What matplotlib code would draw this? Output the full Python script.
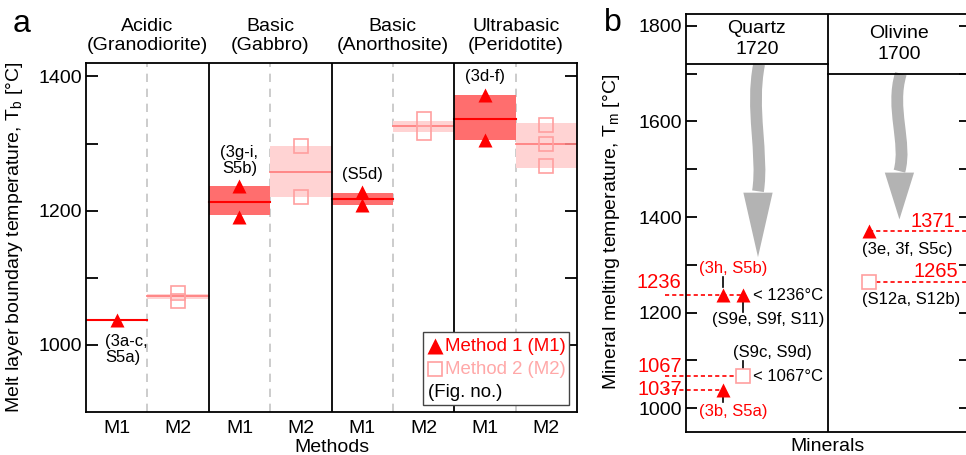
import matplotlib
matplotlib.use('Agg')
import matplotlib.pyplot as plt
from matplotlib.path import Path
from matplotlib.patches import PathPatch, Polygon, Rectangle

plt.rcParams['font.family'] = ['Liberation Sans', 'DejaVu Sans']
plt.rcParams['mathtext.default'] = 'regular'

# ---------------- data (panel a) ----------------
groups = ['Acidic\n(Granodiorite)', 'Basic\n(Gabbro)', 'Basic\n(Anorthosite)', 'Ultrabasic\n(Peridotite)']
m1_points = [[1037], [1237, 1190], [1228, 1209], [1373, 1306]]
m1_mean = [1037, 1213, 1218, 1337]
m1_low = [1037, 1193, 1209, 1306]
m1_high = [1037, 1236, 1227, 1373]
m2_points = [[1078, 1066], [1297, 1221], [1336, 1316], [1328, 1300, 1266]]
m2_mean = [1073, 1258, 1326, 1300]
m2_low = [1069, 1221, 1317, 1264]
m2_high = [1076, 1297, 1334, 1330]
fig_refs = ['(3a-c,\nS5a)', '(3g-i,\nS5b)', '(S5d)', '(3d-f)']

# ---------------- data (panel b) ----------------
minerals = ['Quartz', 'Olivine']
melt_pts = [1720, 1700]
quartz_m1 = [1236, 1236, 1037]
quartz_m2 = [1067]
olivine_m1 = [1371]
olivine_m2 = [1265]

# colours
red = '#ff0000'
band1 = '#ff6e6e'
band2 = '#ffd3d3'
line2 = '#ff8080'
sq_edge = '#ff9f9f'
grid_c = '#c4c4c4'
arrow_c = '#b3b3b3'

tick_size = 14
lab_size = 14
note_size = 12

W, H = 966, 455
fig = plt.figure(figsize=(W/100, H/100), dpi=100)

def px_axes(l, t, r, b):
    return fig.add_axes([l/W, 1-b/H, (r-l)/W, (b-t)/H])

#==================================================================
# Panel a
#==================================================================
ax = px_axes(86, 63, 577, 412)
ax.set_xlim(0, 8)
ax.set_ylim(900, 1420)

for i in range(len(groups)):
    x1 = 2*i
    x2 = 2*i + 1
    # method 1
    ax.fill_between([x1, x1+1], m1_low[i], m1_high[i], color=band1, lw=0, zorder=1)
    ax.plot([x1, x1+1], [m1_mean[i]]*2, color=red, lw=1.5, zorder=2)
    ax.plot([x1+0.5]*len(m1_points[i]), m1_points[i], '^', color=red, ms=10, mec='none', zorder=3)
    # method 2
    ax.fill_between([x2, x2+1], m2_low[i], m2_high[i], color=band2, lw=0, zorder=1)
    ax.plot([x2, x2+1], [m2_mean[i]]*2, color=line2, lw=1.3, zorder=2)
    ax.plot([x2+0.5]*len(m2_points[i]), m2_points[i], 's', mfc='none', mec=sq_edge, ms=9.5, mew=1.2, zorder=3)
    # group title
    ax.text(2*i+1, 1.027, groups[i], transform=ax.get_xaxis_transform(), ha='center', va='bottom',
            fontsize=lab_size, linespacing=1.15)
    # separators
    ax.axvline(x2, color=grid_c, lw=1.2, ls=(0, (5, 4)), zorder=0)
    if i > 0:
        ax.axvline(x1, color='k', lw=1.3, zorder=4)

# figure number notes
ax.text(0.31, 993, fig_refs[0], ha='left', va='center', fontsize=note_size, linespacing=1.1)
ax.text(2.5, 1275, fig_refs[1], ha='center', va='center', fontsize=note_size, linespacing=1.1)
ax.text(4.5, 1254, fig_refs[2], ha='center', va='center', fontsize=note_size)
ax.text(6.5, 1400, fig_refs[3], ha='center', va='center', fontsize=note_size)

ax.set_xticks([i + 0.5 for i in range(8)])
ax.set_xticklabels(['M1', 'M2']*4)
ax.set_yticks([1000, 1200, 1400])
ax.set_yticks([1100, 1300], minor=True)
ax.tick_params(axis='y', which='both', direction='in', length=8.5, width=1.3, left=True, right=True,
               labelsize=tick_size, pad=3)
ax.tick_params(axis='x', length=0, labelsize=tick_size, pad=6)
for s in ax.spines.values():
    s.set_linewidth(1.3)
ax.set_xlabel('Methods', fontsize=lab_size, labelpad=1)
ax.set_ylabel('Melt layer boundary temperature, T$_b$ [°C]', fontsize=lab_size)
ax.yaxis.set_label_coords(-0.124, 0.5)

# legend (drawn by hand)
ax.add_patch(Rectangle((0.686, 0.020), 0.298, 0.209, transform=ax.transAxes, fc='white', ec='#444444',
                       lw=1.0, zorder=5))
ax.plot([0.711], [0.189], '^', color=red, ms=11, mec='none', transform=ax.transAxes, zorder=6)
ax.text(0.731, 0.189, 'Method 1 (M1)', color=red, fontsize=13.4, va='center', transform=ax.transAxes, zorder=6)
ax.plot([0.711], [0.123], 's', mfc='white', mec=sq_edge, ms=10, mew=1.2, transform=ax.transAxes, zorder=6)
ax.text(0.731, 0.123, 'Method 2 (M2)', color='#ffa8a8', fontsize=13.4, va='center', transform=ax.transAxes, zorder=6)
ax.text(0.697, 0.057, '(Fig. no.)', color='k', fontsize=13.4, va='center', transform=ax.transAxes, zorder=6)

fig.text(22/W, 1-24/H, 'a', fontsize=23, ha='center', va='center')

#==================================================================
# Panel b
#==================================================================
bx = px_axes(686, 14, 970, 432)
bx.set_xlim(0, 2)
bx.set_ylim(950, 1825)
bx.set_xticks([])
bx.set_yticks([1000, 1200, 1400, 1600, 1800])
bx.set_yticks([1100, 1300, 1500, 1700], minor=True)
bx.tick_params(axis='y', which='both', direction='in', length=8, width=1.3, left=True, right=True,
               labelsize=tick_size, pad=3)
for s in bx.spines.values():
    s.set_linewidth(1.3)
bx.set_xlabel('Minerals', fontsize=lab_size, labelpad=4)
bx.set_ylabel('Mineral melting temperature, T$_m$ [°C]', fontsize=lab_size)
bx.yaxis.set_label_coords(-0.225, 0.478)

# mineral header boxes
bx.axvline(1, color='k', lw=1.3)
for j in range(len(minerals)):
    bx.plot([j, j+1], [melt_pts[j]]*2, color='k', lw=1.3)
    bx.text(j+0.5, (melt_pts[j] + 1825)/2, minerals[j] + '\n' + str(melt_pts[j]), ha='center', va='center',
            fontsize=lab_size, linespacing=1.3)

# wavy grey arrows from the melting point downwards
def wavy_arrow(x0, top, xs, head_top, tip):
    verts = [(x0 + xs[0], top), (x0 + xs[1], top - 0.35*(top-head_top)),
             (x0 + xs[2], top - 0.7*(top-head_top)), (x0, head_top + 3)]
    path = Path(verts, [Path.MOVETO, Path.CURVE4, Path.CURVE4, Path.CURVE4])
    bx.add_patch(PathPatch(path, fc='none', ec=arrow_c, lw=8.5, capstyle='butt', zorder=1))
    bx.add_patch(Polygon([(x0-0.103, head_top), (x0+0.103, head_top), (x0, tip)], closed=True,
                         fc=arrow_c, ec='none', zorder=1))

wavy_arrow(0.507, melt_pts[0], [0.008, -0.055, 0.04], 1451, 1316)
wavy_arrow(1.503, melt_pts[1], [0.01, -0.065, 0.055], 1493, 1395)

# dashed reference lines
dash = (0, (2.5, 1.8))
qx1, qx2, ox = 0.26, 0.40, 1.29
bx.plot([-0.15, qx2], [quartz_m1[0]]*2, color=red, lw=1.2, ls=dash, clip_on=False, zorder=2)
bx.plot([-0.15, qx2], [quartz_m2[0]]*2, color=red, lw=1.2, ls=dash, clip_on=False, zorder=2)
bx.plot([-0.15, qx1], [quartz_m1[2]]*2, color=red, lw=1.2, ls=dash, clip_on=False, zorder=2)
bx.plot([ox, 2.0], [olivine_m1[0]]*2, color=red, lw=1.2, ls=dash, zorder=2)
bx.plot([ox, 2.0], [olivine_m2[0]]*2, color=red, lw=1.2, ls=dash, zorder=2)

# markers
bx.plot([qx1, qx2, qx1], quartz_m1, '^', color=red, ms=10, mec='none', zorder=4)
bx.plot([qx2], quartz_m2, 's', mfc='white', mec=sq_edge, ms=10, mew=1.2, zorder=4)
bx.plot([ox], olivine_m1, '^', color=red, ms=10, mec='none', zorder=4)
bx.plot([ox], olivine_m2, 's', mfc='white', mec=sq_edge, ms=10, mew=1.2, zorder=4)

# red value labels on the left
bx.text(-0.03, 1263, str(quartz_m1[0]), color=red, ha='right', va='center', fontsize=14.5, clip_on=False)
bx.text(-0.03, 1088, str(quartz_m2[0]), color=red, ha='right', va='center', fontsize=14.5, clip_on=False)
bx.text(-0.03, 1040, str(quartz_m1[2]), color=red, ha='right', va='center', fontsize=14.5, clip_on=False)
bx.text(1.895, 1391, str(olivine_m1[0]), color=red, ha='right', va='center', fontsize=14.5)
bx.text(1.915, 1286, str(olivine_m2[0]), color=red, ha='right', va='center', fontsize=14.5)

# figure-number notes with short leader lines
bx.text(0.33, 1293, '(3h, S5b)', color=red, ha='center', va='center', fontsize=note_size)
bx.plot([qx1, qx1], [1253, 1274], color='k', lw=1.2)
bx.text(0.47, 1236, '< 1236°C', ha='left', va='center', fontsize=note_size)
bx.text(0.58, 1186, '(S9e, S9f, S11)', ha='center', va='center', fontsize=note_size)
bx.plot([qx2, qx2], [1201, 1224], color='k', lw=1.2)
bx.text(0.61, 1117, '(S9c, S9d)', ha='center', va='center', fontsize=note_size)
bx.plot([qx2, qx2], [1081, 1098], color='k', lw=1.2)
bx.text(0.47, 1067, '< 1067°C', ha='left', va='center', fontsize=note_size)
bx.text(0.33, 992, '(3b, S5a)', color=red, ha='center', va='center', fontsize=note_size)
bx.plot([qx1, qx1], [1012, 1029], color='k', lw=1.2)
bx.text(1.24, 1332, '(3e, 3f, S5c)', ha='left', va='center', fontsize=note_size)
bx.text(1.24, 1228, '(S12a, S12b)', ha='left', va='center', fontsize=note_size)

fig.text(613/W, 1-23/H, 'b', fontsize=23, ha='center', va='center')

fig.savefig('out.png', dpi=100)
